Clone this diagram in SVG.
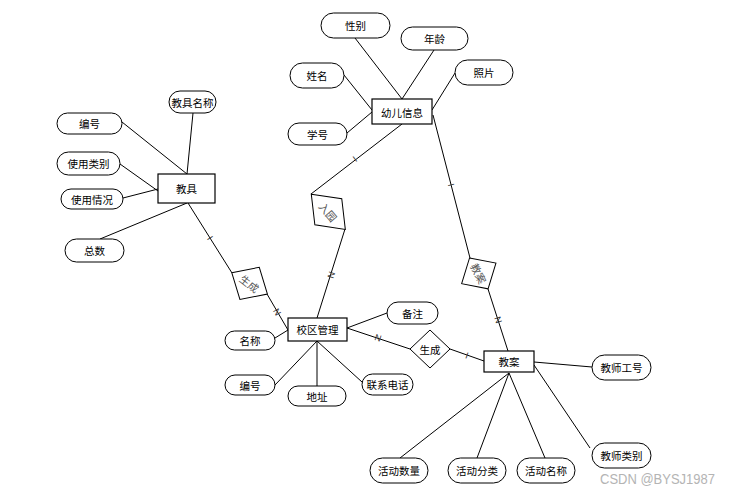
<svg xmlns="http://www.w3.org/2000/svg" width="730" height="494" viewBox="0 0 730 494">
<style>
.ent{fill:#fff;stroke:#000;stroke-width:1.2}
.att{fill:#fff;stroke:#000;stroke-width:1}
.rel{fill:#fff;stroke:#000;stroke-width:1}
.ln{stroke:#000;stroke-width:1;fill:none}
text{font-family:"Noto Sans CJK SC","Liberation Sans",sans-serif;font-size:10.5px;fill:#000;text-anchor:middle;dominant-baseline:central}
.card{font-family:"Liberation Sans",sans-serif;font-size:9px;fill:#333}
.rt{fill:#555}
.wm{font-family:"Liberation Sans",sans-serif;font-size:14.5px;fill:#b4b4b4;text-anchor:start;dominant-baseline:auto}
</style>
<rect width="730" height="494" fill="#fff"/>
<g id="connectors">
<!-- 幼儿信息 attributes -->
<line class="ln" x1="355" y1="38" x2="402" y2="99"/>
<line class="ln" x1="434" y1="50" x2="402" y2="99"/>
<line class="ln" x1="344" y1="75" x2="372" y2="110"/>
<line class="ln" x1="347" y1="133" x2="372" y2="112"/>
<line class="ln" x1="455" y1="73" x2="432" y2="110"/>
<!-- 教具 attributes -->
<line class="ln" x1="193" y1="113" x2="187" y2="174"/>
<line class="ln" x1="122" y1="122" x2="187" y2="174"/>
<line class="ln" x1="120" y1="164" x2="158" y2="191"/>
<line class="ln" x1="123" y1="198" x2="158" y2="189"/>
<line class="ln" x1="100" y1="239" x2="187" y2="203"/>
<!-- 校区管理 attributes -->
<line class="ln" x1="275" y1="338" x2="288" y2="330"/>
<line class="ln" x1="347" y1="328" x2="387" y2="313"/>
<line class="ln" x1="275" y1="385" x2="317" y2="341"/>
<line class="ln" x1="317" y1="386" x2="317" y2="341"/>
<line class="ln" x1="362" y1="382" x2="317" y2="341"/>
<!-- 教案 attributes -->
<line class="ln" x1="534" y1="362" x2="592" y2="367"/>
<line class="ln" x1="534" y1="365" x2="590" y2="448"/>
<line class="ln" x1="509" y1="373" x2="400" y2="458"/>
<line class="ln" x1="509" y1="373" x2="477" y2="458"/>
<line class="ln" x1="509" y1="373" x2="545" y2="458"/>
<!-- relationships -->
<line class="ln" x1="402" y1="124" x2="311" y2="194"/>
<line class="ln" x1="345" y1="229" x2="317" y2="318"/>
<line class="ln" x1="188" y1="203" x2="232" y2="273"/>
<line class="ln" x1="267" y1="294" x2="288" y2="330"/>
<line class="ln" x1="347" y1="328" x2="410" y2="349"/>
<line class="ln" x1="450" y1="349" x2="484" y2="361"/>
<line class="ln" x1="433" y1="115" x2="470" y2="258"/>
<line class="ln" x1="488" y1="289" x2="508" y2="351"/>
<!-- cardinalities -->
<text class="card" transform="translate(355,159) rotate(-37)">I</text>
<text class="card" transform="translate(331.5,275) rotate(-72)">N</text>
<text class="card" transform="translate(210,238) rotate(58)">I</text>
<text class="card" transform="translate(277,312) rotate(59)">N</text>
<text class="card" transform="translate(378,338) rotate(18)">N</text>
<text class="card" transform="translate(467,355.5) rotate(19)">I</text>
<text class="card" transform="translate(451,185) rotate(75)">I</text>
<text class="card" transform="translate(498,320) rotate(72)">N</text>
</g>
<g id="e-youer"><rect class="ent" x="372" y="99" width="60" height="25"/><text x="402" y="112">幼儿信息</text></g>
<g id="e-jiaoju"><rect class="ent" x="158" y="174" width="57" height="29"/><text x="186.5" y="188.5">教具</text></g>
<g id="e-xiaoqu"><rect class="ent" x="288" y="318" width="59" height="23"/><text x="317.5" y="329.5">校区管理</text></g>
<g id="e-jiaoan"><rect class="ent" x="484" y="351" width="50" height="21"/><text x="509" y="361.5">教案</text></g>

<g id="r-ruyuan" transform="translate(328.3,211.8) rotate(46)"><polygon class="rel" points="-24.5,0 0,-18.7 24.5,0 0,18.7"/><text class="rt" transform="rotate(4)">入园</text></g>
<g id="r-shengcheng1" transform="translate(249.6,283.4) rotate(31)"><polygon class="rel" points="-20.8,0 0,-18.8 20.8,0 0,18.8"/><text class="rt" transform="rotate(7)">生成</text></g>
<g id="r-jiaoan" transform="translate(478.8,273.4) rotate(59)"><polygon class="rel" points="-18,0 0,-20 18,0 0,20"/><text class="rt" transform="rotate(4)">教案</text></g>
<g id="r-shengcheng2"><polygon class="rel" points="410,349 430,330 450,349 430,368"/><text x="430" y="349">生成</text></g>

<g id="a-xingbie"><rect class="att" x="321" y="13" width="69" height="25" rx="12.5"/><text x="355.5" y="25.5">性别</text></g>
<g id="a-nianling"><rect class="att" x="401" y="27" width="67" height="23" rx="11.5"/><text x="434.5" y="38.5">年龄</text></g>
<g id="a-xingming"><rect class="att" x="290" y="63" width="54" height="25" rx="12.5"/><text x="317" y="75.5">姓名</text></g>
<g id="a-zhaopian"><rect class="att" x="455" y="60" width="58" height="25" rx="12.5"/><text x="484" y="72.5">照片</text></g>
<g id="a-xuehao"><rect class="att" x="288" y="123" width="59" height="22" rx="11"/><text x="317.5" y="134">学号</text></g>

<g id="a-jiaojumingcheng"><rect class="att" x="169" y="91" width="47" height="22" rx="11"/><text x="192.5" y="102">教具名称</text></g>
<g id="a-bianhao1"><rect class="att" x="57" y="113" width="65" height="21" rx="10.5"/><text x="89.5" y="123.5">编号</text></g>
<g id="a-shiyongleibie"><rect class="att" x="57" y="152" width="63" height="23" rx="11.5"/><text x="88.5" y="163.5">使用类别</text></g>
<g id="a-shiyongqingkuang"><rect class="att" x="61" y="189" width="62" height="20" rx="10"/><text x="92" y="199">使用情况</text></g>
<g id="a-zongshu"><rect class="att" x="65" y="239" width="59" height="23" rx="11.5"/><text x="94.5" y="250.5">总数</text></g>

<g id="a-mingcheng"><rect class="att" x="225" y="331" width="50" height="19" rx="9.5"/><text x="250" y="340.5">名称</text></g>
<g id="a-beizhu"><rect class="att" x="387" y="302" width="51" height="22" rx="11"/><text x="412.5" y="313">备注</text></g>
<g id="a-bianhao2"><rect class="att" x="225" y="375" width="50" height="20" rx="10"/><text x="250" y="385">编号</text></g>
<g id="a-dizhi"><rect class="att" x="288" y="386" width="58" height="20" rx="10"/><text x="317" y="396">地址</text></g>
<g id="a-lianxidianhua"><rect class="att" x="362" y="374" width="51" height="21" rx="10.5"/><text x="387.5" y="384.5">联系电话</text></g>

<g id="a-jiaoshigonghao"><rect class="att" x="592" y="355" width="59" height="25" rx="12.5"/><text x="621.5" y="367.5">教师工号</text></g>
<g id="a-jiaoshileibie"><rect class="att" x="592" y="443" width="59" height="25" rx="12.5"/><text x="621.5" y="455.5">教师类别</text></g>
<g id="a-huodongshuliang"><rect class="att" x="370" y="458" width="58" height="25" rx="12.5"/><text x="399" y="470.5">活动数量</text></g>
<g id="a-huodongfenlei"><rect class="att" x="448" y="458" width="58" height="25" rx="12.5"/><text x="477" y="470.5">活动分类</text></g>
<g id="a-huodongmingcheng"><rect class="att" x="517" y="458" width="58" height="25" rx="12.5"/><text x="546" y="470.5">活动名称</text></g>

<text class="wm" x="600" y="484" textLength="115" lengthAdjust="spacingAndGlyphs">CSDN @BYSJ1987</text>
</svg>
